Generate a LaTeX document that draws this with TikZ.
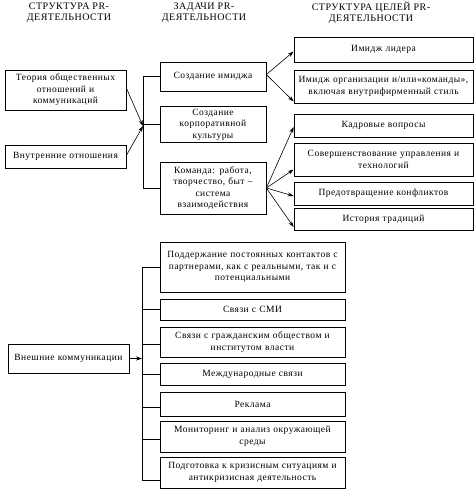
\documentclass[tikz,border=0pt]{standalone}
\usepackage{fontspec}
\setmainfont{Liberation Serif}[LetterSpace=5]
\usetikzlibrary{arrows.meta,calc}
\begin{document}
\begin{tikzpicture}[x=1pt,y=-1pt,
 box/.style={draw,line width=0.7pt,inner sep=1pt,align=center,font=\fontsize{9.5}{11.5}\selectfont},
 hdr/.style={align=center,font=\fontsize{10}{11}\selectfont},
 arr/.style={-{Stealth[length=6pt,width=4pt]},line width=0.6pt},
 ln/.style={line width=0.7pt}]
\useasboundingbox (0,0) rectangle (476,495);
% headers
\node[hdr] (h1) at (69,13) {СТРУКТУРА PR-\\ДЕЯТЕЛЬНОСТИ};
\node[hdr] (h2) at (204,13) {ЗАДАЧИ PR-\\ДЕЯТЕЛЬНОСТИ};
\node[hdr] (h3) at (371,13) {СТРУКТУРА ЦЕЛЕЙ PR-\\ДЕЯТЕЛЬНОСТИ};
% left column
\node[box,minimum width=121pt,minimum height=40pt,text width=117pt] (theory) at (65.5,90) {Теория общественных\\отношений и\\коммуникаций};
\node[box,minimum width=121pt,minimum height=23pt,text width=117pt] (inner) at (65.5,156.5) {Внутренние отношения};
% middle column
\node[box,minimum width=106pt,minimum height=29pt,text width=102pt] (img) at (213,76.5) {Создание имиджа};
\node[box,minimum width=106pt,minimum height=36pt,text width=102pt] (corp) at (213,124.5) {Создание\\корпоративной\\культуры};
\node[box,minimum width=106pt,minimum height=52pt,text width=102pt] (team) at (213,188) {Команда: работа,\\творчество, быт –\\система\\взаимодействия};
% right column
\node[box,minimum width=179pt,minimum height=25pt,text width=175pt] (leader) at (383.5,49.5) {Имидж лидера};
\node[box,minimum width=179pt,minimum height=33pt,text width=175pt] (org) at (383.5,86.5) {Имидж организации и/или«команды»,\\включая внутрифирменный стиль};
\node[box,minimum width=179pt,minimum height=23pt,text width=175pt] (kadr) at (383.5,125.5) {Кадровые вопросы};
\node[box,minimum width=179pt,minimum height=33pt,text width=175pt] (sov) at (383.5,159.5) {Совершенствование управления и\\технологий};
\node[box,minimum width=179pt,minimum height=23pt,text width=175pt] (pred) at (383.5,193.5) {Предотвращение конфликтов};
\node[box,minimum width=179pt,minimum height=22pt,text width=175pt] (hist) at (383.5,219) {История традиций};
% bottom part
\node[box,minimum width=121pt,minimum height=29pt,text width=117pt] (ext) at (68.5,358.5) {Внешние коммуникации};
\node[box,minimum width=185pt,minimum height=50pt,text width=181pt] (b1) at (252.5,267) {Поддержание постоянных контактов с\\партнерами, как с реальными, так и с\\потенциальными};
\node[box,minimum width=185pt,minimum height=21pt,text width=181pt] (b2) at (252.5,309.5) {Связи с СМИ};
\node[box,minimum width=185pt,minimum height=30pt,text width=181pt] (b3) at (252.5,342) {Связи с гражданским обществом и\\институтом власти};
\node[box,minimum width=185pt,minimum height=22pt,text width=181pt] (b4) at (252.5,374) {Международные связи};
\node[box,minimum width=185pt,minimum height=24pt,text width=181pt] (b5) at (252.5,404) {Реклама};
\node[box,minimum width=185pt,minimum height=31pt,text width=181pt] (b6) at (252.5,436.5) {Мониторинг и анализ окружающей\\среды};
\node[box,minimum width=185pt,minimum height=31pt,text width=181pt] (b7) at (252.5,472.5) {Подготовка к кризисным ситуациям и\\антикризисная деятельность};
% top connectors
\coordinate (ttop) at (143,76.5);
\coordinate (tbot) at (143,188);
\coordinate (hub) at (143,126);
\draw[ln] (ttop) -- (tbot);
\draw[ln] (ttop) -- (img.west);
\draw[ln] (143,124.5) -- (corp.west);
\draw[ln] (tbot) -- (team.west);
\draw[arr] ([yshift=2pt]theory.east) -- (hub);
\draw[arr] ([yshift=1pt]inner.east) -- (hub);
\draw[arr] ([yshift=2pt]img.east) -- ([yshift=-2pt]leader.west);
\draw[arr] ([yshift=2pt]img.east) -- ([yshift=-15pt]org.west);
\draw[arr] (team.east) -- ([yshift=-1.5pt]kadr.west);
\draw[arr] (team.east) -- ([yshift=-10pt]sov.west);
\draw[arr] (team.east) -- ([yshift=-2.5pt]pred.west);
\draw[arr] (team.east) -- ([yshift=-8pt]hist.west);
% bottom connectors
\coordinate (btop) at (142,267);
\coordinate (bbot) at (142,480);
\draw[ln] (btop) -- (bbot);
\draw[arr] (ext.east) -- (ext.east -| btop);
\draw[ln] (btop) -- (b1.west);
\draw[ln] (b2.west -| btop) -- (b2.west);
\draw[ln] ([yshift=-2pt]b3.west -| btop) -- ([yshift=-2pt]b3.west);
\draw[ln] (b4.west -| btop) -- (b4.west);
\draw[ln] ([yshift=-3pt]b5.west -| btop) -- ([yshift=-3pt]b5.west);
\draw[ln] ([yshift=-2.5pt]b6.west -| btop) -- ([yshift=-2.5pt]b6.west);
\draw[ln] (bbot) -- (bbot -| b7.west);
\end{tikzpicture}
\end{document}
